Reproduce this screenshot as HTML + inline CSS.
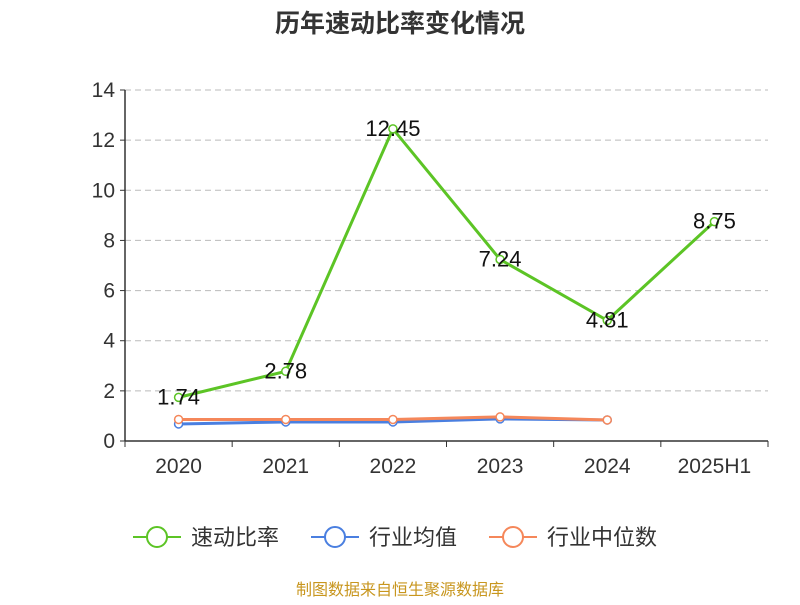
<!DOCTYPE html>
<html><head><meta charset="utf-8"><style>
body{margin:0;background:#fff;font-family:"Liberation Sans","Noto Sans CJK SC",sans-serif}
</style></head><body>
<svg id="c" width="800" height="600" xmlns="http://www.w3.org/2000/svg" font-family="Liberation Sans, Noto Sans CJK SC, sans-serif"></svg>
<script>
const categories=["2020","2021","2022","2023","2024","2025H1"];
const quickRatio=[1.74,2.78,12.45,7.24,4.81,8.75];
const industryAvg=[0.68,0.76,0.76,0.88,0.84];
const industryMedian=[0.86,0.86,0.86,0.96,0.84];
const yTicks=[0,2,4,6,8,10,12,14];
const svg=document.getElementById('c');
const NS='http://www.w3.org/2000/svg';
const x0=125,x1=768,y0=441,yTop=90,yMax=14;
const bw=(x1-x0)/categories.length;
const X=i=>x0+bw*(i+0.5);
const Y=v=>y0-(v/yMax)*(y0-yTop);
function mk(tag,attrs,parent){const e=document.createElementNS(NS,tag);for(const k in attrs)e.setAttribute(k,attrs[k]);(parent||svg).appendChild(e);return e;}
const t=mk('text',{x:400,y:32,'text-anchor':'middle','font-size':25,'font-weight':'bold',fill:'#333'});


t.textContent='历年速动比率变化情况';
yTicks.forEach(v=>{
  if(v>0){const g=mk('line',{x1:x0,x2:x1,y1:Y(v),y2:Y(v),stroke:'#bbb','stroke-dasharray':'6,4'});
  
  }
  const tk=mk('line',{x1:x0-5,x2:x0,y1:Y(v),y2:Y(v),stroke:'#333'});
  
  
  const l=mk('text',{x:x0-10,y:Y(v)+7,'text-anchor':'end','font-size':21,fill:'#333'});
  
  
  l.textContent=v;
});
const ya=mk('line',{x1:x0,x2:x0,y1:yTop,y2:y0,stroke:'#333','stroke-width':1.5});


const xa=mk('line',{x1:x0,x2:x1,y1:y0,y2:y0,stroke:'#333','stroke-width':1.5});


for(let i=0;i<=categories.length;i++){
  const tk=mk('line',{x1:x0+bw*i,x2:x0+bw*i,y1:y0,y2:y0+6,stroke:'#333'});
  
  
}
categories.forEach((c,i)=>{
  const l=mk('text',{x:X(i),y:473,'text-anchor':'middle','font-size':21,fill:'#333'});
  
  
  l.textContent=c;
});
function series(vals,color,name,labels){
  const p=mk('polyline',{points:vals.map((v,i)=>X(i)+','+Y(v)).join(' '),fill:'none',stroke:color,'stroke-width':3});
  
  
  vals.forEach((v,i)=>{
    const c=mk('circle',{cx:X(i),cy:Y(v),r:4,fill:'#fff',stroke:color,'stroke-width':1.5});
    
    
    if(labels){
      const l=mk('text',{x:X(i),y:Y(v)+7,'text-anchor':'middle','font-size':22,fill:'#111'});
      
      
      l.textContent=v.toFixed(2);
    }
  });
}
series(industryAvg,'#4a7fe0','industry-avg',false);
series(industryMedian,'#f5875a','industry-median',false);
series(quickRatio,'#5cc425','quick-ratio',true);
const leg=[['速动比率','#5cc425',133],['行业均值','#4a7fe0',311],['行业中位数','#f5875a',489]];
leg.forEach(([n,c,x])=>{
  const g=mk('g',{});
  
  
  mk('line',{x1:x,x2:x+48,y1:537,y2:537,stroke:c,'stroke-width':2},g);
  mk('circle',{cx:x+24,cy:537,r:10,fill:'#fff',stroke:c,'stroke-width':2},g);
  const t=mk('text',{x:x+58,y:545,'font-size':22,fill:'#333'},g);
  t.textContent=n;
});
const s=mk('text',{x:400,y:595,'text-anchor':'middle','font-size':16,fill:'#c8961e'});


s.textContent='制图数据来自恒生聚源数据库';
</script>
</body></html>
